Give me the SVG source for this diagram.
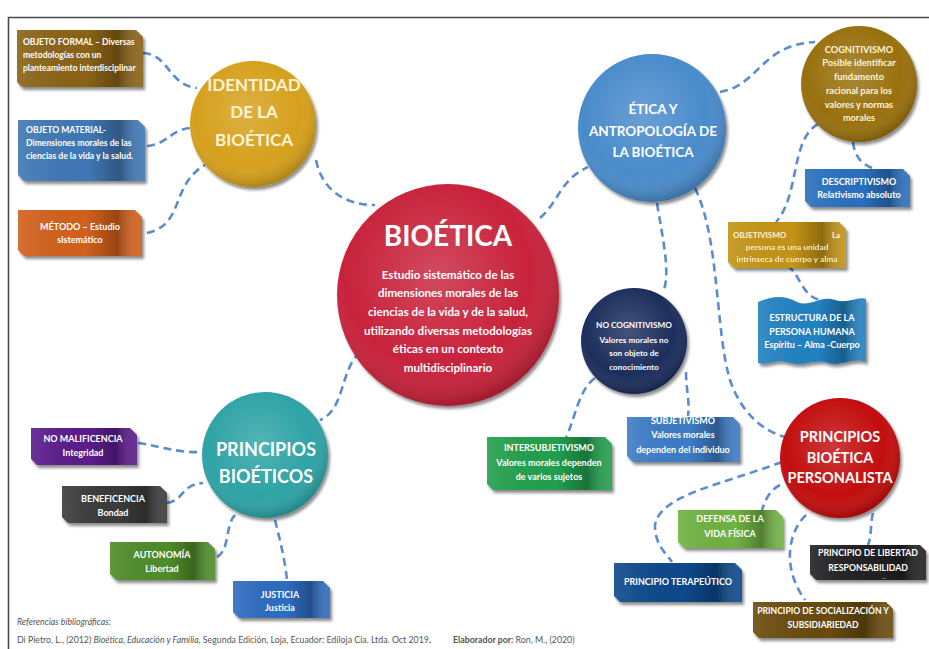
<svg xmlns="http://www.w3.org/2000/svg" width="929" height="649" viewBox="0 0 929 649">
<defs>
<style>
.conn{fill:none;stroke:#5b8cd0;stroke-width:2.6;stroke-dasharray:8 5}
.t{font-family:Lato,"Open Sans","Liberation Sans",sans-serif;font-weight:bold;fill:#ffffff;text-anchor:middle}
.s{font-size:9px}
.l{text-anchor:start}
.cream{fill:#fff4d6}
.foot{font-family:Lato,"Open Sans","Liberation Sans",sans-serif;font-size:8.8px;fill:#555555}
.box{filter:url(#sh)}
.sheen{fill:url(#sheen)}
.glow{fill:url(#glow)}
</style>
<filter id="sh" x="-10%" y="-10%" width="130%" height="140%">
<feDropShadow dx="2" dy="3" stdDeviation="1.6" flood-color="#000" flood-opacity="0.45"/>
</filter>
<linearGradient id="sheen" x1="0" y1="0" x2="1" y2="0">
<stop offset="0" stop-color="#fff" stop-opacity="0.10"/>
<stop offset="0.55" stop-color="#000" stop-opacity="0"/>
<stop offset="0.8" stop-color="#000" stop-opacity="0.28"/>
<stop offset="1" stop-color="#fff" stop-opacity="0.08"/>
</linearGradient>
<radialGradient id="glow" cx="0.45" cy="0.4" r="0.6">
<stop offset="0" stop-color="#fff" stop-opacity="0.18"/>
<stop offset="0.7" stop-color="#fff" stop-opacity="0"/>
<stop offset="1" stop-color="#000" stop-opacity="0.18"/>
</radialGradient>
</defs>
<rect width="929" height="649" fill="#ffffff"/>
<path d="M8.5,649 V17.5 H929" fill="none" stroke="#4a4a4a" stroke-width="1.6"/>

<g id="connectors">
<path class="conn" d="M143,53 C170,55 168,85 197,88"/>
<path class="conn" d="M147,146 C168,144 170,130 190,128"/>
<path class="conn" d="M147,233 C185,225 170,185 205,165"/>
<path class="conn" d="M316,160 C322,190 345,205 375,205"/>
<path class="conn" d="M540,218 C560,200 560,180 588,167"/>
<path class="conn" d="M720,92 C760,85 760,45 815,42"/>
<path class="conn" d="M818,124 C790,140 800,195 776,222"/>
<path class="conn" d="M853,142 C855,160 865,165 872,168"/>
<path class="conn" d="M787,266 C800,272 800,295 820,300"/>
<path class="conn" d="M657,203 C663,240 670,270 664,290"/>
<path class="conn" d="M695,188 C720,240 715,330 730,380 C740,410 760,430 785,437"/>
<path class="conn" d="M686,372 C686,390 690,400 688,416"/>
<path class="conn" d="M595,378 C578,390 575,420 566,437"/>
<path class="conn" d="M360,352 C340,370 345,410 320,420"/>
<path class="conn" d="M138,443 C160,446 175,453 203,452"/>
<path class="conn" d="M167,503 C185,500 180,485 203,483"/>
<path class="conn" d="M217,557 C230,550 225,525 235,515"/>
<path class="conn" d="M275,520 C280,540 285,560 287,580"/>
<path class="conn" d="M782,462 C720,485 660,495 655,525 C655,545 665,552 672,562"/>
<path class="conn" d="M780,485 C770,490 765,500 762,510"/>
<path class="conn" d="M806,515 C790,530 780,565 805,600"/>
<path class="conn" d="M873,513 C870,525 872,535 868,545"/>
</g>

<!-- circles -->
<g id="bioetica">
<circle class="box" cx="448" cy="295" r="111" fill="#c8223a"/>
<circle class="glow" cx="448" cy="295" r="111"/>
<text class="t" x="448" y="246" font-size="28">BIOÉTICA</text>
<text class="t" x="448" font-size="11.6"><tspan x="448" y="279">Estudio sistemático de las</tspan><tspan x="448" y="297">dimensiones morales de las</tspan><tspan x="448" y="316">ciencias de la vida y de la salud,</tspan><tspan x="448" y="335">utilizando diversas metodologías</tspan><tspan x="448" y="353">éticas en un contexto</tspan><tspan x="448" y="372">multidisciplinario</tspan></text>
</g>
<g id="identidad">
<circle class="box" cx="253" cy="124" r="63" fill="#d6a01a"/>
<circle class="glow" cx="253" cy="124" r="63"/>
<text class="t cream" font-size="17"><tspan x="254" y="91">IDENTIDAD</tspan><tspan x="254" y="118">DE LA</tspan><tspan x="254" y="146">BIOÉTICA</tspan></text>
</g>
<g id="etica">
<circle class="box" cx="652" cy="128" r="74" fill="#4a8bcb"/>
<circle class="glow" cx="652" cy="128" r="74"/>
<text class="t" font-size="13.5"><tspan x="653" y="114">ÉTICA Y</tspan><tspan x="653" y="136">ANTROPOLOGÍA DE</tspan><tspan x="653" y="157">LA BIOÉTICA</tspan></text>
</g>
<g id="cognitivismo">
<circle class="box" cx="859" cy="84" r="58" fill="#98700f"/>
<circle class="glow" cx="859" cy="84" r="58"/>
<text class="t cream" font-size="9.2"><tspan x="859" y="53">COGNITIVISMO</tspan><tspan x="859" y="66">Posible identificar</tspan><tspan x="859" y="80">fundamento</tspan><tspan x="859" y="94">racional para los</tspan><tspan x="859" y="108">valores y normas</tspan><tspan x="859" y="121">morales</tspan></text>
</g>
<g id="nocognitivismo">
<circle class="box" cx="634" cy="341" r="53" fill="#1b2f5c"/>
<circle class="glow" cx="634" cy="341" r="53"/>
<text class="t" font-size="8.2"><tspan x="634" y="328">NO COGNITIVISMO</tspan><tspan x="634" y="343">Valores morales no</tspan><tspan x="634" y="356">son objeto de</tspan><tspan x="634" y="370">conocimiento</tspan></text>
</g>
<g id="principiosbioeticos">
<circle class="box" cx="265" cy="455" r="63" fill="#2ea3a6"/>
<circle class="glow" cx="265" cy="455" r="63"/>
<text class="t" font-size="18"><tspan x="266" y="456">PRINCIPIOS</tspan><tspan x="266" y="483">BIOÉTICOS</tspan></text>
</g>
<g id="personalista">
<circle class="box" cx="840" cy="458" r="60" fill="#c20c0c"/>
<circle class="glow" cx="840" cy="458" r="60"/>
<text class="t" font-size="14.5"><tspan x="840" y="442">PRINCIPIOS</tspan><tspan x="840" y="463">BIOÉTICA</tspan><tspan x="840" y="483">PERSONALISTA</tspan></text>
</g>

<!-- boxes -->
<g id="objetoformal">
<path class="box" d="M17,30 H136 L143,37 V87 H22 L17,82 Z" fill="#8a6412"/>
<path class="sheen" d="M17,30 H136 L143,37 V87 H22 L17,82 Z"/>
<text class="t l" font-size="8.5"><tspan x="23" y="45">OBJETO FORMAL – Diversas</tspan><tspan x="23" y="58">metodologías con un</tspan><tspan x="23" y="71">planteamiento interdisciplinar</tspan></text>
</g>
<g id="objetomaterial">
<path class="box" d="M18,120 H138 L145,127 V181 H24 L18,175 Z" fill="#3f78b5"/>
<path class="sheen" d="M18,120 H138 L145,127 V181 H24 L18,175 Z"/>
<text class="t l" font-size="8.6"><tspan x="26" y="133">OBJETO MATERIAL-</tspan><tspan x="26" y="146">Dimensiones morales de las</tspan><tspan x="26" y="159">ciencias de la vida y la salud.</tspan></text>
</g>
<g id="metodo">
<path class="box" d="M18,210 H135 L142,217 V256 H24 L18,250 Z" fill="#d2601a"/>
<path class="sheen" d="M18,210 H135 L142,217 V256 H24 L18,250 Z"/>
<text class="t s"><tspan x="80" y="230">MÉTODO – Estudio</tspan><tspan x="80" y="243">sistemático</tspan></text>
</g>
<g id="descriptivismo">
<path class="box" d="M805,169 H903 L910,176 V207 H811 L805,201 Z" fill="#2b6fbf"/>
<path class="sheen" d="M805,169 H903 L910,176 V207 H811 L805,201 Z"/>
<text class="t s"><tspan x="859" y="185">DESCRIPTIVISMO</tspan><tspan x="859" y="198">Relativismo absoluto</tspan></text>
</g>
<g id="objetivismo">
<path class="box" d="M728,222 H839 L846,229 V268 H734 L728,262 Z" fill="#c49417"/>
<path class="sheen" d="M728,222 H839 L846,229 V268 H734 L728,262 Z"/>
<text class="t l cream" font-size="8" x="733" y="238">OBJETIVISMO</text>
<text class="t cream" font-size="8" x="836" y="238">La</text>
<text class="t cream" font-size="8.4" opacity="0.9"><tspan x="787" y="250">persona es una unidad</tspan><tspan x="787" y="262">intrinseca de cuerpo y alma</tspan></text>
</g>
<g id="estructura">
<path class="box" d="M758,302 C775,295 785,296 797,302 C810,308 820,295 835,300 C848,304 858,296 866,299 V362 C852,357 842,367 828,363 C815,358 805,367 790,363 C775,358 768,366 758,363 Z" fill="#2382c2"/>
<path class="sheen" d="M758,302 C775,295 785,296 797,302 C810,308 820,295 835,300 C848,304 858,296 866,299 V362 C852,357 842,367 828,363 C815,358 805,367 790,363 C775,358 768,366 758,363 Z"/>
<text class="t s"><tspan x="812" y="321">ESTRUCTURA DE LA</tspan><tspan x="812" y="335">PERSONA HUMANA</tspan><tspan x="812" y="348">Espíritu – Alma -Cuerpo</tspan></text>
</g>
<g id="intersubjetivismo">
<path class="box" d="M487,437 H605 L612,444 V490 H493 L487,484 Z" fill="#22a04e"/>
<path class="sheen" d="M487,437 H605 L612,444 V490 H493 L487,484 Z"/>
<text class="t s"><tspan x="549" y="451">INTERSUBJETIVISMO</tspan><tspan x="549" y="466">Valores morales dependen</tspan><tspan x="549" y="480">de varios sujetos</tspan></text>
</g>
<g id="subjetivismo">
<path class="box" d="M627,417 H733 L740,424 V462 H633 L627,456 Z" fill="#3c7cc6"/>
<path class="sheen" d="M627,417 H733 L740,424 V462 H633 L627,456 Z"/>
<text class="t s"><tspan x="683" y="424">SUBJETIVISMO</tspan><tspan x="683" y="438">Valores morales</tspan><tspan x="683" y="453">dependen del individuo</tspan></text>
</g>
<g id="nomalificencia">
<path class="box" d="M31,428 H130 L137,435 V465 H37 L31,459 Z" fill="#5c1d8c"/>
<path class="sheen" d="M31,428 H130 L137,435 V465 H37 L31,459 Z"/>
<text class="t s"><tspan x="83" y="442">NO MALIFICENCIA</tspan><tspan x="83" y="456">Integridad</tspan></text>
</g>
<g id="beneficencia">
<path class="box" d="M62,486 H160 L167,493 V523 H68 L62,517 Z" fill="#3a3a3a"/>
<path class="sheen" d="M62,486 H160 L167,493 V523 H68 L62,517 Z"/>
<text class="t s"><tspan x="113" y="502">BENEFICENCIA</tspan><tspan x="113" y="516">Bondad</tspan></text>
</g>
<g id="autonomia">
<path class="box" d="M110,542 H208 L215,549 V580 H116 L110,574 Z" fill="#4f8c2a"/>
<path class="sheen" d="M110,542 H208 L215,549 V580 H116 L110,574 Z"/>
<text class="t s"><tspan x="162" y="558">AUTONOMÍA</tspan><tspan x="162" y="572">Libertad</tspan></text>
</g>
<g id="justicia">
<path class="box" d="M233,581 H323 L330,588 V618 H239 L233,612 Z" fill="#2d6cc0"/>
<path class="sheen" d="M233,581 H323 L330,588 V618 H239 L233,612 Z"/>
<text class="t s"><tspan x="280" y="598">JUSTICIA</tspan><tspan x="280" y="611">Justicia</tspan></text>
</g>
<g id="defensa">
<path class="box" d="M678,510 H776 L783,517 V548 H684 L678,542 Z" fill="#6fb243"/>
<path class="sheen" d="M678,510 H776 L783,517 V548 H684 L678,542 Z"/>
<text class="t s"><tspan x="730" y="522">DEFENSA DE LA</tspan><tspan x="730" y="537">VIDA FÍSICA</tspan></text>
</g>
<g id="terapeutico">
<path class="box" d="M614,563 H735 L742,570 V602 H620 L614,596 Z" fill="#0e4a8c"/>
<path class="sheen" d="M614,563 H735 L742,570 V602 H620 L614,596 Z"/>
<text class="t s" x="678" y="585">PRINCIPIO TERAPEÚTICO</text>
</g>
<g id="libertad">
<path class="box" d="M810,545 H920 L926,551 V580 H816 L810,574 Z" fill="#222222"/>
<path class="sheen" d="M810,545 H920 L926,551 V580 H816 L810,574 Z"/>
<text class="t" font-size="8.7"><tspan x="868" y="556">PRINCIPIO DE LIBERTAD</tspan><tspan x="868" y="571">RESPONSABILIDAD</tspan></text>
<text class="t" font-size="5" fill="#999" x="884" y="579">. .</text>
</g>
<g id="socializacion">
<path class="box" d="M753,602 H886 L893,609 V638 H759 L753,632 Z" fill="#6b4c08"/>
<path class="sheen" d="M753,602 H886 L893,609 V638 H759 L753,632 Z"/>
<text class="t" font-size="8.6"><tspan x="823" y="614">PRINCIPIO DE SOCIALIZACIÓN Y</tspan><tspan x="823" y="628">SUBSIDIARIEDAD</tspan></text>
</g>

<g id="footer">
<text class="foot" x="17" y="625" font-style="italic">Referencias bibliográficas:</text>
<text class="foot" x="17" y="643">Di Pietro, L., (2012) <tspan font-style="italic">Bioética, Educación y Familia,</tspan> Segunda Edición, Loja, Ecuador: Edíloja Cia. Ltda. Oct 2019<tspan font-weight="bold" fill="#222">.</tspan></text>
<text class="foot" x="453" y="643"><tspan font-weight="bold">Elaborador por:</tspan> Ron, M., (2020)</text>
</g>
</svg>
